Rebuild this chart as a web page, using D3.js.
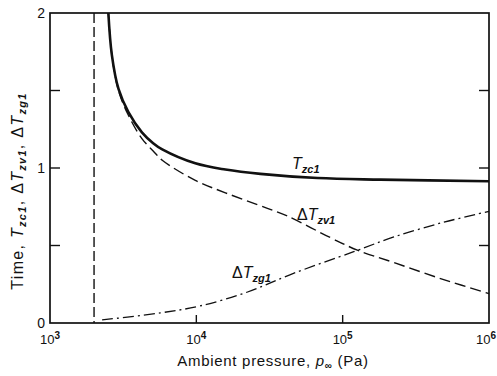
<!DOCTYPE html>
<html>
<head>
<meta charset="utf-8">
<script src="https://cdn.jsdelivr.net/npm/d3@7"></script>
<style>
  html, body { margin: 0; padding: 0; background: #fff; }
  svg text { font-family: "Liberation Sans", Arial, sans-serif; fill: #111; }
</style>
</head>
<body>
<svg id="chart" width="497" height="376"></svg>
<script>
// Ambient pressure (Pa) and times for each curve
const tzcPressure = [2505, 2646, 2938, 3434, 4247, 5070, 5850, 9840, 15800, 27400, 67400, 182000, 1000000];
const tzcValues   = [2.0, 1.73, 1.51, 1.36, 1.23, 1.16, 1.12, 1.03, 0.99, 0.962, 0.935, 0.925, 0.915];

const tzvPressure = [2505, 2646, 2938, 3434, 4247, 5070, 5850, 9840, 15800, 30600, 42000, 82800, 126000, 224000, 490000, 1000000];
const tzvValues   = [2.0, 1.73, 1.50, 1.34, 1.19, 1.11, 1.05, 0.92, 0.84, 0.74, 0.69, 0.55, 0.47, 0.39, 0.28, 0.19];

const tzgPressure = [2270, 5660, 10600, 22400, 46100, 119000, 224000, 490000, 1000000];
const tzgValues   = [0.02, 0.065, 0.11, 0.20, 0.32, 0.46, 0.555, 0.65, 0.72];

// Vertical limit line
const limitPressure = 2000;

const xTickValues = [1e3, 1e4, 1e5, 1e6];
const xTickExponents = ["3", "4", "5", "6"];
const yTickLabels = [0, 1, 2];
const yMinorTicks = [0.5, 1, 1.5];

const svg = d3.select("#chart");
const margin = { left: 50, right: 8, top: 13, bottom: 53 };
const W = 497, H = 376;

const x = d3.scaleLog().domain([1e3, 1e6]).range([margin.left, W - margin.right]);
const y = d3.scaleLinear().domain([0, 2]).range([H - margin.bottom, margin.top]);

const x0 = x.range()[0], x1 = x.range()[1];
const y0 = y.range()[0], y1 = y.range()[1];

// Frame
svg.append("rect")
  .attr("x", x0).attr("y", y1)
  .attr("width", x1 - x0).attr("height", y0 - y1)
  .attr("fill", "none").attr("stroke", "#111").attr("stroke-width", 1.7);

// Inward ticks on left and right
const tickLen = 10;
yMinorTicks.forEach(v => {
  svg.append("line").attr("x1", x0).attr("x2", x0 + tickLen)
    .attr("y1", y(v)).attr("y2", y(v)).attr("stroke", "#111").attr("stroke-width", 1.4);
  svg.append("line").attr("x1", x1).attr("x2", x1 - tickLen)
    .attr("y1", y(v)).attr("y2", y(v)).attr("stroke", "#111").attr("stroke-width", 1.4);
});
// Inward ticks on the bottom axis at inner decades
xTickValues.slice(1, -1).forEach(v => {
  svg.append("line").attr("x1", x(v)).attr("x2", x(v))
    .attr("y1", y0).attr("y2", y0 - 8).attr("stroke", "#111").attr("stroke-width", 1.4);
});

// Y tick labels
yTickLabels.forEach(v => {
  svg.append("text").attr("x", x0 - 5).attr("y", y(v) + 5)
    .attr("text-anchor", "end").attr("font-size", 14).text(v);
});

// X tick labels as powers of ten; the last one is kept inside the page edge
xTickValues.forEach((v, i) => {
  const last = i === xTickValues.length - 1;
  const t = svg.append("text")
    .attr("x", last ? W - 1 : x(v)).attr("y", y0 + 21)
    .attr("text-anchor", last ? "end" : "middle").attr("font-size", 13);
  t.append("tspan").text("10");
  t.append("tspan").attr("dy", -5).attr("font-size", 10).attr("font-weight", "bold").text(xTickExponents[i]);
});

// Axis titles
const xt = svg.append("text").attr("x", 273).attr("y", 366)
  .attr("text-anchor", "middle").attr("font-size", 15).attr("letter-spacing", 0.7);
xt.append("tspan").text("Ambient pressure, ");
xt.append("tspan").attr("font-style", "italic").text("p");
xt.append("tspan").attr("dy", 3).attr("font-size", 10).attr("font-weight", "bold").text("∞");
xt.append("tspan").attr("dy", -3).text(" (Pa)");

const yt = svg.append("text")
  .attr("transform", `translate(23,191) rotate(-90)`)
  .attr("text-anchor", "middle").attr("font-size", 16).attr("letter-spacing", 1.3);
yt.append("tspan").text("Time, ");
yt.append("tspan").attr("font-style", "italic").text("T");
yt.append("tspan").attr("dy", 3).attr("font-size", 11).attr("font-style", "italic").attr("font-weight", "bold").text("zc1");
yt.append("tspan").attr("dy", -3).text(", Δ");
yt.append("tspan").attr("font-style", "italic").text("T");
yt.append("tspan").attr("dy", 3).attr("font-size", 11).attr("font-style", "italic").attr("font-weight", "bold").text("zv1");
yt.append("tspan").attr("dy", -3).text(", Δ");
yt.append("tspan").attr("font-style", "italic").text("T");
yt.append("tspan").attr("dy", 3).attr("font-size", 11).attr("font-style", "italic").attr("font-weight", "bold").text("zg1");

// Curves
const line = d3.line()
  .x(d => x(d[0]))
  .y(d => y(d[1]))
  .curve(d3.curveCatmullRom.alpha(0.5));

const plot = svg.append("g");

plot.append("line")
  .attr("x1", x(limitPressure)).attr("x2", x(limitPressure))
  .attr("y1", y1).attr("y2", y0)
  .attr("stroke", "#111").attr("stroke-width", 1.4)
  .attr("stroke-dasharray", "10,4");

plot.append("path")
  .attr("d", line(d3.zip(tzvPressure, tzvValues)))
  .attr("fill", "none").attr("stroke", "#111").attr("stroke-width", 1.4)
  .attr("stroke-dasharray", "11,5");

plot.append("path")
  .attr("d", line(d3.zip(tzgPressure, tzgValues)))
  .attr("fill", "none").attr("stroke", "#111").attr("stroke-width", 1.3)
  .attr("stroke-dasharray", "11,4,2,4");

plot.append("path")
  .attr("d", line(d3.zip(tzcPressure, tzcValues)))
  .attr("fill", "none").attr("stroke", "#111").attr("stroke-width", 2.6);

// Curve labels
function curveLabel(px, py, delta, sub) {
  const t = svg.append("text").attr("x", px).attr("y", py).attr("font-size", 16);
  if (delta) t.append("tspan").text("Δ");
  t.append("tspan").attr("font-style", "italic").text("T");
  t.append("tspan").attr("dy", 4).attr("font-size", 11).attr("font-style", "italic").attr("font-weight", "bold").text(sub);
}
curveLabel(292, 169, false, "zc1");
curveLabel(297, 220, true, "zv1");
curveLabel(232, 278, true, "zg1");
</script>
</body>
</html>
